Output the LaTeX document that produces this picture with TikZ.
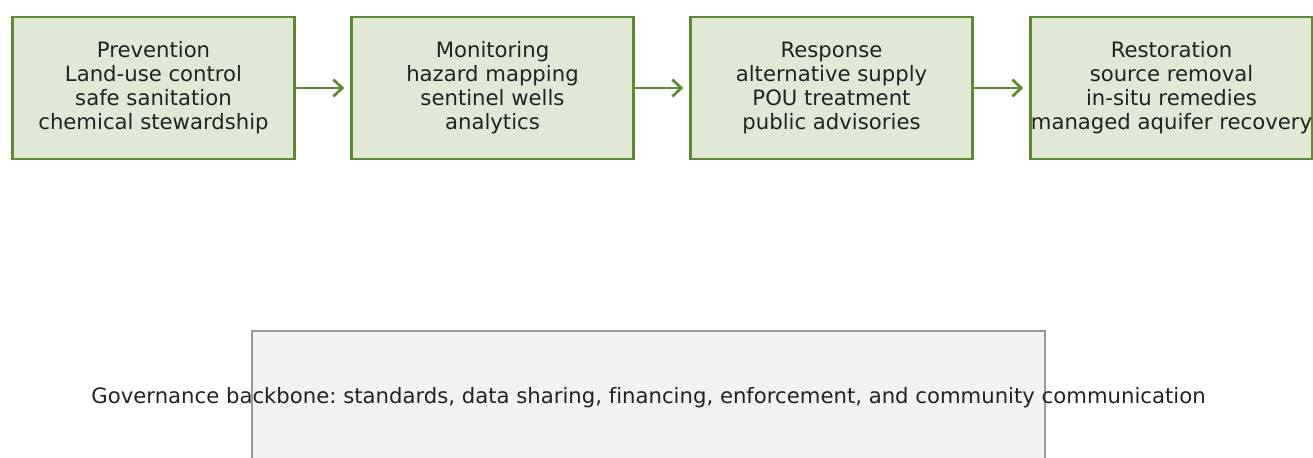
\documentclass[tikz,border=0pt]{standalone}
\usepackage{fontspec}
\setmainfont{DejaVu Sans}[Ligatures=NoCommon]
\usepackage{tikz}
\usetikzlibrary{positioning,arrows.meta}

\definecolor{stagegreen}{HTML}{5B8A32}
\definecolor{stagefill}{HTML}{DFE9D6}
\definecolor{govfill}{HTML}{F2F2F2}
\definecolor{govedge}{HTML}{999999}
\definecolor{ink}{HTML}{222222}
\frenchspacing

\begin{document}
\begin{tikzpicture}[x=0.5pt,y=0.5pt,
	stage/.style={draw=stagegreen,line width=1.25pt,fill=stagefill,minimum width=141pt,minimum height=71pt,inner sep=0pt,align=center,text=ink,font=\fontsize{10.6}{12}\selectfont},
	flow/.style={-{Straight Barb[length=4.5pt,width=8.5pt]},draw=stagegreen,line width=1.35pt,shorten >=3pt},
	govbox/.style={draw=govedge,line width=0.75pt,fill=govfill,minimum width=396.5pt,minimum height=64pt,inner sep=0pt}]
		\clip (0,0) rectangle (1313,457);
		% the four stages, left to right
		\node[stage] (prevention)  at (153.5, 369) {Prevention\\Land-use control\\safe sanitation\\chemical stewardship};
		\node[stage] (monitoring)  at (492.5, 369) {Monitoring\\hazard mapping\\sentinel wells\\analytics};
		\node[stage] (response)    at (831.5, 369) {Response\\alternative supply\\POU treatment\\public advisories};
		\node[stage] (restoration) at (1171.5,369) {Restoration\\source removal\\in-situ remedies\\managed aquifer recovery};
		\draw[flow] (prevention) -- (monitoring);
		\draw[flow] (monitoring) -- (response);
		\draw[flow] (response) -- (restoration);
		% backbone underneath
		\node[govbox] (governance) at (648.5,62) {};
		\node[text=ink,font=\fontsize{10.6}{12}\selectfont,yshift=-1.5pt] (backbone) at (governance.center) {Governance backbone: standards, data sharing, financing, enforcement, and community communication};
\end{tikzpicture}
\end{document}
